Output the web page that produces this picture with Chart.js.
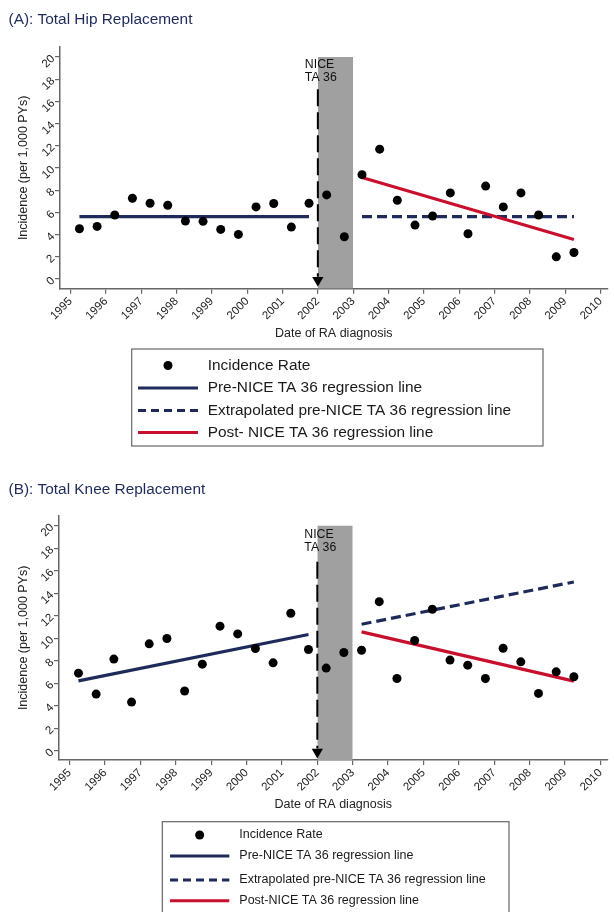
<!DOCTYPE html>
<html><head><meta charset="utf-8">
<script src="https://cdn.jsdelivr.net/npm/chart.js@4.4.1/dist/chart.umd.min.js"></script>
<style>
html,body{margin:0;padding:0;background:#fff;width:614px;height:912px;overflow:hidden}
.wrap{position:absolute;left:0;width:614px}
#wa{top:0;height:471px}
#wb{top:471px;height:441px}
</style></head><body>
<div class="wrap" id="wa"><canvas id="ca"></canvas></div>
<div class="wrap" id="wb"><canvas id="cb"></canvas></div>
<script>
// ---------- data ----------
const pointYears = [1995.25,1995.75,1996.25,1996.75,1997.25,1997.75,1998.25,1998.75,1999.25,1999.75,2000.25,2000.75,2001.25,2001.75,2002.25,2002.75,2003.25,2003.75,2004.25,2004.75,2005.25,2005.75,2006.25,2006.75,2007.25,2007.75,2008.25,2008.75,2009.25];
const hipRates  = [4.53,4.74,5.77,7.28,6.83,6.65,5.23,5.20,4.47,4.02,6.50,6.80,4.68,6.83,7.58,3.81,9.40,11.70,7.10,4.86,5.68,7.76,4.08,8.37,6.50,7.76,5.77,2.00,2.39];
const kneeRates = [6.89,5.03,8.14,4.32,9.50,9.97,5.30,7.69,11.07,10.38,9.08,7.81,12.22,8.99,7.34,8.73,8.93,13.25,6.42,9.79,12.57,8.05,7.60,6.42,9.11,7.90,5.09,7.01,6.57];
const preYears  = [1995.25, 2001.75];
const postYears = [2003.25, 2009.25];
const hipPreFit    = [5.62, 5.62];
const hipExtrapFit = [5.62, 5.62];
const hipPostFit   = [9.15, 3.56];
const kneePreFit    = [6.21, 10.33];
const kneeExtrapFit = [11.24, 15.00];
const kneePostFit   = [10.56, 6.18];
const yearTicks = [1995,1996,1997,1998,1999,2000,2001,2002,2003,2004,2005,2006,2007,2008,2009,2010];
const rateTicks = [0,2,4,6,8,10,12,14,16,18,20];
const niceYear = 2002, shadeEnd = 2003, shadeTop = 20;
const hipMarkerTop = 17.1, kneeMarkerTop = 16.8, markerBottom = 0.2, arrowValue = -0.12;
const legendHip  = ['Incidence Rate','Pre-NICE TA 36 regression line','Extrapolated pre-NICE TA 36 regression line','Post- NICE TA 36 regression line'];
const legendKnee = ['Incidence Rate','Pre-NICE TA 36 regression line','Extrapolated pre-NICE TA 36 regression line','Post-NICE TA 36 regression line'];

// ---------- style ----------
const FONT = "'Liberation Sans', Arial, Helvetica, sans-serif";
const NAVY = '#1e2b5a';
const RED = '#c8102e';
const pts = (xs, ys) => xs.map((x, i) => ({x, y: ys[i]}));

const overlay = {
  id: 'overlay',
  afterDraw(chart, args, o) {
    const ctx = chart.ctx;
    const xs = chart.scales.x;
    ctx.save();
    // title
    ctx.fillStyle = '#1e2b5a';
    ctx.font = `15.4px ${FONT}`;
    ctx.textAlign = 'left'; ctx.textBaseline = 'middle';
    ctx.fillText(o.title, 8.5, o.titleY);
    // NICE label
    ctx.fillStyle = '#111';
    ctx.font = `12.3px ${FONT}`;
    const nx = xs.getPixelForValue(niceYear) - 13;
    ctx.fillText('NICE', nx, o.niceY);
    ctx.fillText('TA 36', nx, o.niceY + 12.7);
    // legend box
    const L = o.legend;
    ctx.strokeStyle = '#666'; ctx.lineWidth = 1.2; ctx.setLineDash([]);
    ctx.strokeRect(L.x, L.y, L.w, L.h);
    ctx.font = `${L.font}px ${FONT}`;
    L.items.forEach((dsIndex, i) => {
      const ds = chart.data.datasets[dsIndex];
      const cy = L.rows[i];
      if (ds.type === 'scatter' || ds.showLine === false) {
        ctx.fillStyle = '#000';
        ctx.beginPath(); ctx.arc((L.sx0 + L.sx1) / 2, cy, 4.5, 0, Math.PI * 2); ctx.fill();
      } else {
        ctx.strokeStyle = ds.borderColor; ctx.lineWidth = 3;
        ctx.setLineDash(ds.borderDash && ds.borderDash.length ? [8, 5] : []);
        ctx.beginPath(); ctx.moveTo(L.sx0, cy); ctx.lineTo(L.sx1, cy); ctx.stroke();
        ctx.setLineDash([]);
      }
      ctx.fillStyle = '#1a1a1a';
      ctx.textAlign = 'left'; ctx.textBaseline = 'middle';
      ctx.fillText(ds.label, L.tx, cy);
    });
    ctx.restore();
  }
};

function makeChart(id, c) {
  const datasets = [
    {type:'scatter', label:c.labels[0], data: pts(pointYears, c.rates), showLine:false,
     pointRadius:4.5, pointHoverRadius:4.5, pointBackgroundColor:'#000', pointBorderWidth:0, order:1},
    {type:'line', label:c.labels[1], data: pts(preYears, c.pre), borderColor:NAVY, borderWidth:3.2,
     pointRadius:0, fill:false, order:3},
    {type:'line', label:c.labels[2], data: pts(postYears, c.extrap), borderColor:NAVY, borderWidth:3.2,
     borderDash:[10,5], pointRadius:0, fill:false, order:4},
    {type:'line', label:c.labels[3], data: pts(postYears, c.post), borderColor:RED, borderWidth:3.2,
     pointRadius:0, fill:false, order:2},
    {type:'line', label:'shade', data: pts([niceYear, shadeEnd], [shadeTop, shadeTop]), borderWidth:0,
     borderColor:'rgba(0,0,0,0)', backgroundColor:'#a0a0a0', fill:'start', pointRadius:0, order:10},
    {type:'line', label:'marker', data: pts([niceYear, niceYear], [c.markerTop, markerBottom]), borderColor:'#000',
     borderWidth:2, borderDash:[17,6], pointRadius:0, fill:false, order:6},
    {type:'scatter', label:'arrow', data: pts([niceYear], [arrowValue]), pointStyle:'triangle', rotation:180,
     pointRadius:6.5, pointBackgroundColor:'#000', pointBorderWidth:0, order:5}
  ];
  return new Chart(document.getElementById(id), {
    type: 'scatter',
    data: {datasets},
    options: {
      responsive: true, maintainAspectRatio: false, animation: false,
      events: [],
      layout: {padding: c.padding},
      plugins: {legend:{display:false}, tooltip:{enabled:false},
        overlay: {title:c.title, titleY:c.titleY, niceY:c.niceY, legend:c.legend}},
      scales: {
        x: {type:'linear', min:1994.7, max:2010.2,
          afterBuildTicks: s => { s.ticks = yearTicks.map(v => ({value:v})); },
          afterFit: s => { s.height = c.xAxisH; },
          ticks: {autoSkip:false, minRotation:45, maxRotation:45, padding:1, color:'#222',
            font:{family:FONT, size:11.5}, callback: v => String(v)},
          grid: {drawOnChartArea:false, drawTicks:true, tickLength:5, color:'#666', lineWidth:1.2},
          border: {display:true, color:'#666', width:1.5},
          title: {display:true, text:'Date of RA diagnosis', color:'#222', font:{family:FONT, size:12.5}, padding:0}
        },
        y: {type:'linear', min:c.yMin, max:c.yMax,
          afterBuildTicks: s => { s.ticks = rateTicks.map(v => ({value:v})); },
          afterFit: s => { s.width = c.yAxisW; },
          ticks: {minRotation:45, maxRotation:45, padding:2, color:'#222', font:{family:FONT, size:11.5}},
          grid: {drawOnChartArea:false, drawTicks:true, tickLength:5, color:'#666', lineWidth:1.2},
          border: {display:true, color:'#666', width:1.5},
          title: {display:true, text:'Incidence (per 1,000 PYs)', color:'#222', font:{family:FONT, size:12.5},
            padding:{top:16.5, bottom:0}}
        }
      }
    },
    plugins: [overlay]
  });
}

makeChart('ca', {
  rates: hipRates, pre: hipPreFit, extrap: hipExtrapFit, post: hipPostFit, markerTop: hipMarkerTop,
  labels: legendHip, title: '(A): Total Hip Replacement', titleY: 20, niceY: 65,
  yMin: -0.87, yMax: 20.9, yAxisW: 60, xAxisH: 52.8,
  padding: {top:47, left:0, right:2, bottom:129.5},
  legend: {x:131.7, y:349, w:411.3, h:97, rows:[365.5,388,410.5,432.5], sx0:138, sx1:198, tx:207.7, font:15.4, items:[0,1,2,3]}
});
makeChart('cb', {
  rates: kneeRates, pre: kneePreFit, extrap: kneeExtrapFit, post: kneePostFit, markerTop: kneeMarkerTop,
  labels: legendKnee, title: '(B): Total Knee Replacement', titleY: 19, niceY: 64,
  yMin: -0.83, yMax: 20.89, yAxisW: 59, xAxisH: 52.5,
  padding: {top:44.7, left:0, right:4, bottom:99.5},
  legend: {x:162.3, y:350.7, w:346.7, h:95, rows:[364,385,409,429.7], sx0:170, sx1:229.3, tx:239.3, font:12.5, items:[0,1,2,3]}
});
</script>
</body></html>
